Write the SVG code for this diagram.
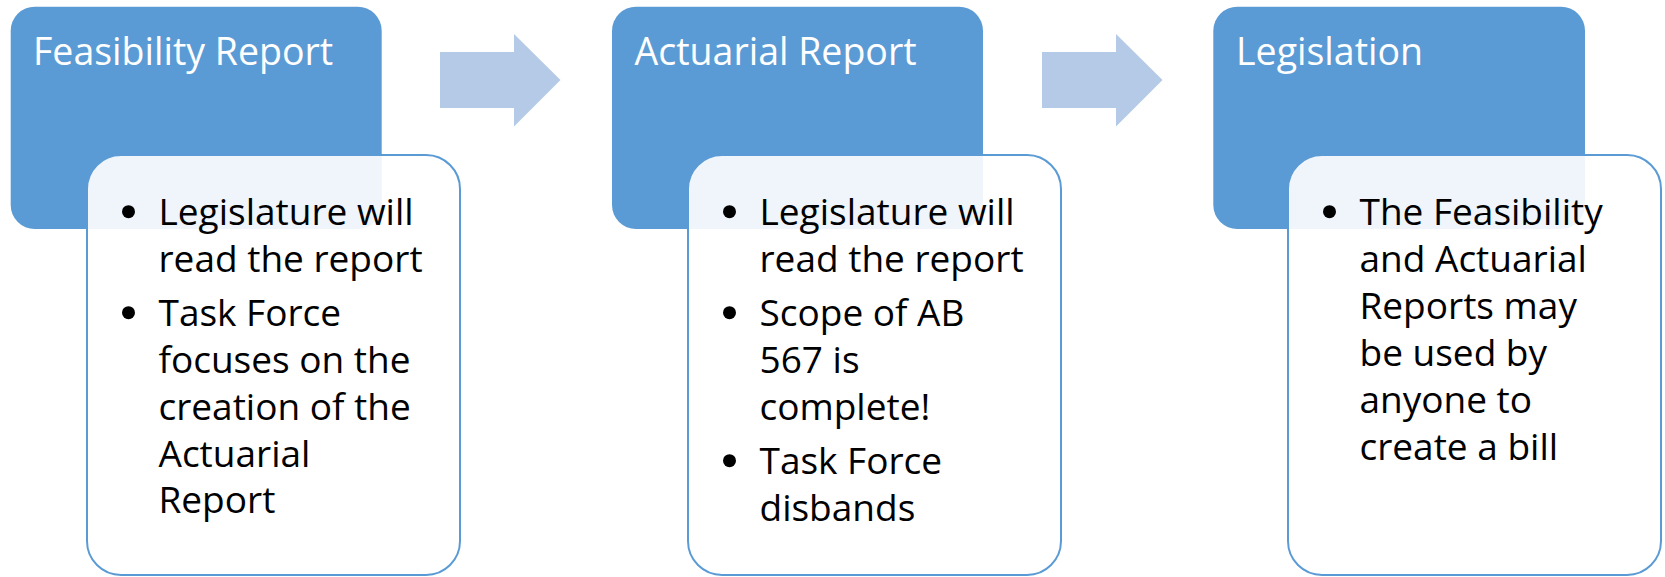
<svg xmlns="http://www.w3.org/2000/svg" width="1665" height="577" viewBox="0 0 1665 577">
  <style>
    .stage { fill: #5B9BD5; }
    .card { fill: #FFFFFF; fill-opacity: 0.9; stroke: #5B9BD5; stroke-width: 2; }
    .title { font-family: "Open Sans", "Liberation Sans", sans-serif; font-size: 37.5px; fill: #FFFFFF; }
    .body { font-family: "Open Sans", "Liberation Sans", sans-serif; font-size: 37px; fill: #000000; }
    .dot { fill: #000000; }
    .flow { fill: #B4CAE7; }
  </style>

  <!-- block arrows between stages -->
  <g id="connectors">
    <path class="flow" d="M440,52 H514 V34 L560.5,80 L514,126.5 V108 H440 Z"/>
    <path class="flow" d="M1042,52 H1116 V34 L1162.5,80 L1116,126.5 V108 H1042 Z"/>
  </g>

  <!-- stage 1 -->
  <g id="feasibility-report">
    <rect class="stage" x="10.7" y="6.7" width="371" height="222.3" rx="24"/>
    <text class="title" x="33" y="65">Feasibility Report</text>
    <rect class="card" x="87" y="155" width="373" height="420" rx="34"/>
    <circle class="dot" cx="128.5" cy="211.7" r="6.5"/>
    <text class="body" x="158.5" y="225">Legislature will</text>
    <text class="body" x="158.5" y="272">read the report</text>
    <circle class="dot" cx="128.5" cy="312.7" r="6.5"/>
    <text class="body" x="158.5" y="326">Task Force</text>
    <text class="body" x="158.5" y="373">focuses on the</text>
    <text class="body" x="158.5" y="420">creation of the</text>
    <text class="body" x="158.5" y="467">Actuarial</text>
    <text class="body" x="158.5" y="513">Report</text>
  </g>

  <!-- stage 2 -->
  <g id="actuarial-report">
    <rect class="stage" x="612" y="6.7" width="371" height="222.3" rx="24"/>
    <text class="title" x="634.5" y="65">Actuarial Report</text>
    <rect class="card" x="688" y="155" width="373" height="420" rx="34"/>
    <circle class="dot" cx="729.5" cy="211.7" r="6.5"/>
    <text class="body" x="759.5" y="225">Legislature will</text>
    <text class="body" x="759.5" y="272">read the report</text>
    <circle class="dot" cx="729.5" cy="312.7" r="6.5"/>
    <text class="body" x="759.5" y="326">Scope of AB</text>
    <text class="body" x="759.5" y="373">567 is</text>
    <text class="body" x="759.5" y="420">complete!</text>
    <circle class="dot" cx="729.5" cy="460.7" r="6.5"/>
    <text class="body" x="759.5" y="474">Task Force</text>
    <text class="body" x="759.5" y="521">disbands</text>
  </g>

  <!-- stage 3 -->
  <g id="legislation">
    <rect class="stage" x="1213.3" y="6.7" width="371.7" height="222.3" rx="24"/>
    <text class="title" x="1236" y="65">Legislation</text>
    <rect class="card" x="1288" y="155" width="373" height="420" rx="34"/>
    <circle class="dot" cx="1329.5" cy="211.7" r="6.5"/>
    <text class="body" x="1359.5" y="225">The Feasibility</text>
    <text class="body" x="1359.5" y="272">and Actuarial</text>
    <text class="body" x="1359.5" y="319">Reports may</text>
    <text class="body" x="1359.5" y="366">be used by</text>
    <text class="body" x="1359.5" y="413">anyone to</text>
    <text class="body" x="1359.5" y="460">create a bill</text>
  </g>
</svg>
